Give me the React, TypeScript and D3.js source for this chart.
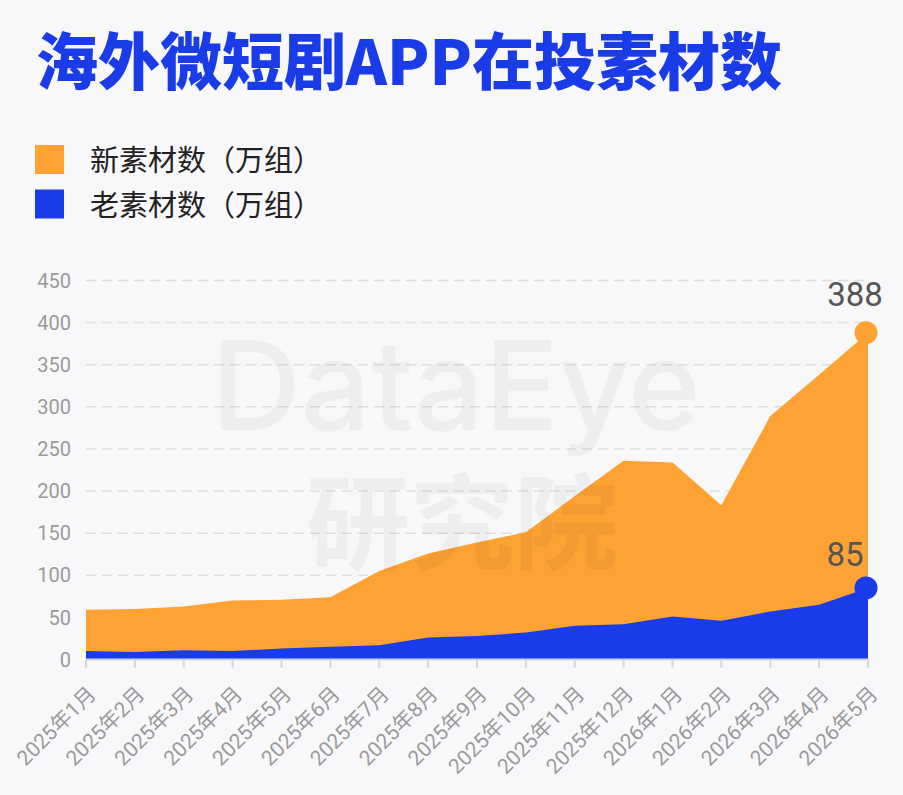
import { useRef, useEffect } from 'react';
import * as d3 from 'd3';

const MONTHS = [
  '2025年1月', '2025年2月', '2025年3月', '2025年4月', '2025年5月', '2025年6月',
  '2025年7月', '2025年8月', '2025年9月', '2025年10月', '2025年11月', '2025年12月',
  '2026年1月', '2026年2月', '2026年3月', '2026年4月', '2026年5月',
];
// 新素材数（万组）
const NEW_ASSETS = [59, 60, 63, 70, 71, 74, 105, 126, 139, 151, 194, 236, 234, 183, 289, 338, 388];
// 老素材数（万组）
const OLD_ASSETS = [10, 9, 11, 10, 13, 15, 17, 26, 28, 32, 40, 42, 51, 46, 57, 65, 85];
const Y_TICKS = [0, 50, 100, 150, 200, 250, 300, 350, 400, 450];

const ORANGE = '#FDA233';
const BLUE = '#1A3BE8';
const FONT = '"Noto Sans CJK SC", "Noto Sans", sans-serif';
const NUM_FONT = 'Roboto, "Noto Sans CJK SC", sans-serif';

const W = 903;
const H = 795;

export default function App() {
  const svgRef = useRef<SVGSVGElement>(null);

  useEffect(() => {
    const svg = d3.select(svgRef.current);
    svg.selectAll('*').remove();

    const x = d3.scalePoint<string>().domain(MONTHS).range([86, 868]);
    const y = d3.scaleLinear().domain([0, 450]).range([659.5, 280.5]);

    svg.append('rect').attr('width', W).attr('height', H).attr('fill', '#F8F8FA');

    // title
    svg.append('text')
      .attr('x', 36)
      .attr('y', 85)
      .attr('font-family', FONT)
      .attr('font-weight', 900)
      .attr('font-size', 62)
      .attr('fill', BLUE)
      .text('海外微短剧APP在投素材数');

    // legend
    const legend = [
      { label: '新素材数（万组）', color: ORANGE },
      { label: '老素材数（万组）', color: BLUE },
    ];
    const lg = svg.append('g').selectAll('g').data(legend).join('g')
      .attr('transform', (_, i) => `translate(35,${145 + i * 44.5})`);
    lg.append('rect').attr('width', 29).attr('height', 29).attr('fill', (d) => d.color);
    lg.append('text')
      .attr('x', 55)
      .attr('y', 26)
      .attr('font-family', FONT)
      .attr('font-size', 29)
      .attr('fill', '#222')
      .text((d) => d.label);

    // dashed grid
    svg.append('g').selectAll('line').data(Y_TICKS.filter((t) => t > 0)).join('line')
      .attr('x1', x(MONTHS[0])!)
      .attr('x2', x(MONTHS[MONTHS.length - 1])!)
      .attr('y1', (d) => y(d))
      .attr('y2', (d) => y(d))
      .attr('stroke', '#DEDEE0')
      .attr('stroke-width', 1.5)
      .attr('stroke-dasharray', '10 6');

    // y tick labels
    svg.append('g').selectAll('text').data(Y_TICKS).join('text')
      .attr('x', 71)
      .attr('y', (d) => y(d))
      .attr('dy', '0.36em')
      .attr('text-anchor', 'end')
      .attr('font-family', NUM_FONT)
      .attr('font-size', 20)
      .attr('fill', '#9A9A9A')
      .text((d) => d);

    // overlapping areas, both from zero
    const area = (vals: number[]) =>
      d3.area<string>()
        .x((d) => x(d)!)
        .y0(y(0))
        .y1((_, i) => y(vals[i]))(MONTHS);

    svg.append('path').attr('d', area(NEW_ASSETS)).attr('fill', ORANGE);
    svg.append('path').attr('d', area(OLD_ASSETS)).attr('fill', BLUE);

    // x axis
    svg.append('line')
      .attr('x1', x(MONTHS[0])!)
      .attr('x2', x(MONTHS[MONTHS.length - 1])!)
      .attr('y1', y(0))
      .attr('y2', y(0))
      .attr('stroke', '#D4D4D8')
      .attr('stroke-width', 2);
    svg.append('g').selectAll('line').data(MONTHS).join('line')
      .attr('x1', (d) => x(d)!)
      .attr('x2', (d) => x(d)!)
      .attr('y1', y(0))
      .attr('y2', y(0) + 8)
      .attr('stroke', '#D4D4D8')
      .attr('stroke-width', 2);
    svg.append('g').selectAll('text').data(MONTHS).join('text')
      .attr('transform', (d) => `translate(${x(d)! + 11},${y(0) + 36}) rotate(-45)`)
      .attr('text-anchor', 'end')
      .attr('font-family', NUM_FONT)
      .attr('font-size', 21)
      .attr('fill', '#9A9A9A')
      .text((d) => d);

    // watermark, faint over everything
    const wm = svg.append('text')
      .attr('text-anchor', 'middle')
      .attr('fill', '#000')
      .attr('opacity', 0.035);
    wm.append('tspan')
      .attr('x', 456)
      .attr('y', 430)
      .attr('font-family', '"Inter", "Noto Sans", sans-serif')
      .attr('font-size', 124)
      .attr('font-weight', 500)
      .text('DataEye');
    wm.append('tspan')
      .attr('x', 462)
      .attr('y', 562)
      .attr('font-family', FONT)
      .attr('font-size', 104)
      .attr('font-weight', 700)
      .text('研究院');

    // end points + value labels
    const last = MONTHS.length - 1;
    const ends = [
      { v: NEW_ASSETS[last], color: ORANGE, dx: -13, dy: -27 },
      { v: OLD_ASSETS[last], color: BLUE, dx: -23, dy: -22 },
    ];
    ends.forEach((e) => {
      const cx = x(MONTHS[last])!;
      svg.append('circle')
        .attr('cx', cx - 2)
        .attr('cy', y(e.v))
        .attr('r', 11.5)
        .attr('fill', e.color);
      svg.append('text')
        .attr('x', cx + e.dx)
        .attr('y', y(e.v) + e.dy)
        .attr('text-anchor', 'middle')
        .attr('font-family', NUM_FONT)
        .attr('font-size', 33)
        .attr('fill', '#555')
        .text(e.v);
    });
  }, []);

  return (
    <svg
      ref={svgRef}
      width={W}
      height={H}
      style={{ position: 'absolute', left: 0, top: 0, display: 'block' }}
    />
  );
}
